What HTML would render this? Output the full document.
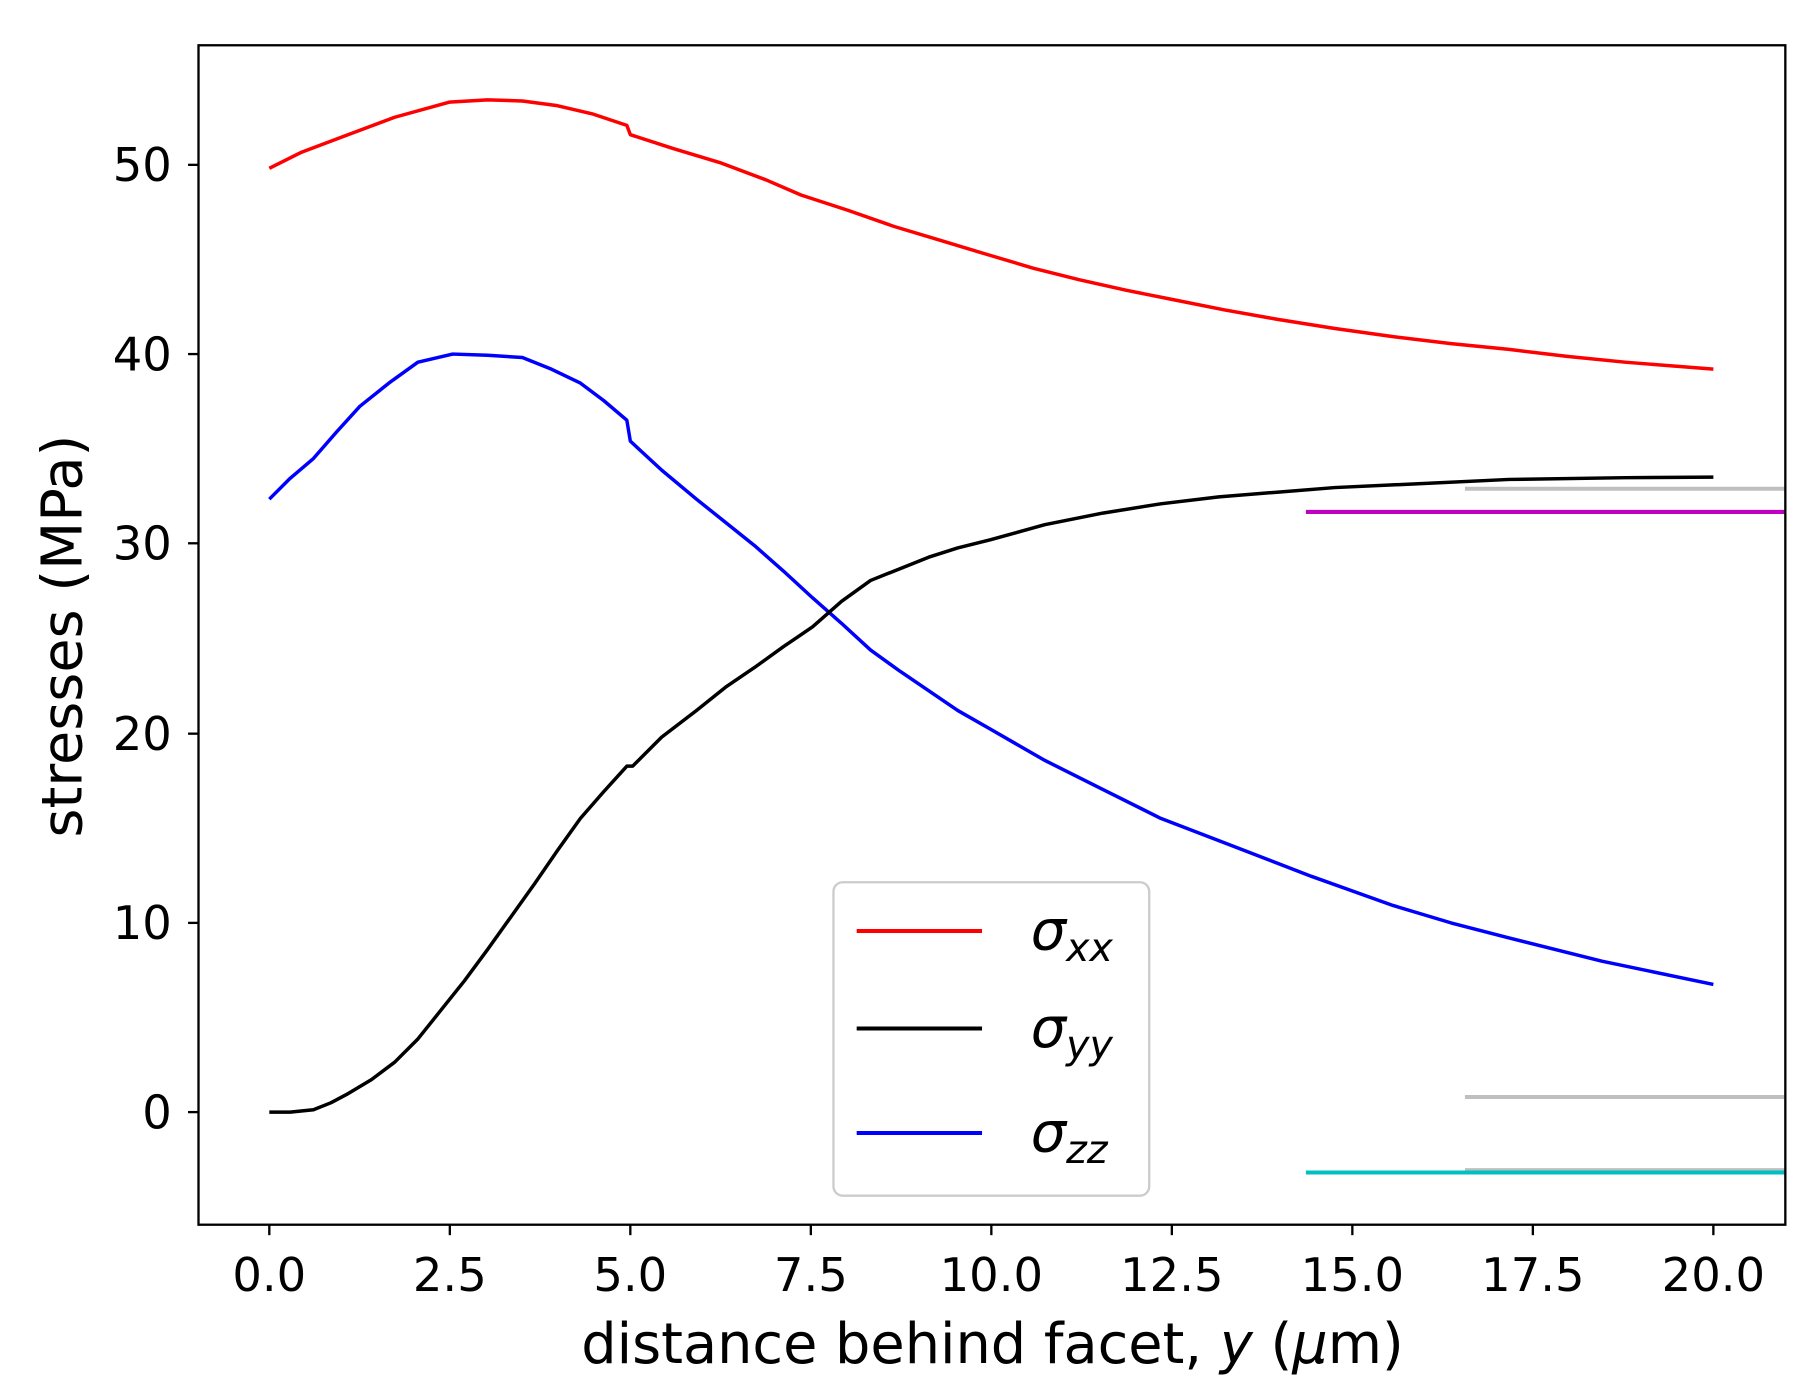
<!DOCTYPE html>
<html><head><meta charset="utf-8"><style>
html,body{margin:0;padding:0;background:#fff;}
svg{display:block;}
text{font-family:"DejaVu Sans","Liberation Sans",sans-serif;fill:#000;}
</style></head><body>
<svg width="1819" height="1400" viewBox="0 0 1567 1206" preserveAspectRatio="none" xmlns="http://www.w3.org/2000/svg">
<rect width="1567" height="1206" fill="#fff"/>
<g stroke-width="3.5" fill="none">
<line x1="1262" y1="421" x2="1538" y2="421" stroke="#bfbfbf"/>
<line x1="1125" y1="441" x2="1538" y2="441" stroke="#c000c0"/>
<line x1="1262" y1="945" x2="1538" y2="945" stroke="#bfbfbf"/>
<line x1="1262" y1="1008" x2="1538" y2="1008" stroke="#bfbfbf"/>
<line x1="1125" y1="1010" x2="1538" y2="1010" stroke="#00bfbf"/>
</g>
<g fill="none" stroke-width="3" stroke-linejoin="round">
<polyline stroke="#ff0000" points="232,145 260,131 300,116 340,101 387,88 420,86 450,87 480,91 510,98 540,108 543,116 580,128 620,140 660,155 690,168 730,181 770,195 810,207 853,220 890,231 930,241 970,250 1010,258 1055,267 1100,275 1150,283 1200,290 1250,296 1300,301 1350,307 1400,312 1476,318"/>
<polyline stroke="#0000ff" points="232,430 250,412 270,395 290,372 310,350 335,330 360,312 390,305 420,306 450,308 475,318 500,330 520,345 540,362 543,380 570,405 600,430 625,450 650,470 675,492 700,515 725,537 750,560 775,578 800,595 825,612 853,628 900,655 950,680 1000,705 1060,728 1130,755 1200,780 1250,795 1300,808 1380,828 1476,848"/>
<polyline stroke="#000000" points="232,958 250,958 270,956 285,950 300,942 320,930 340,915 360,895 380,870 400,845 420,818 440,790 460,762 480,733 500,705 520,682 540,660 545,660 570,635 600,612 625,592 650,575 675,557 700,540 725,518 750,500 775,490 800,480 825,472 853,465 900,452 950,442 1000,434 1050,428 1100,424 1150,420 1215,417 1300,413 1400,411.5 1476,411"/>
</g>
<rect x="171" y="39" width="1367" height="1016" fill="none" stroke="#000" stroke-width="2"/>
<g stroke="#000" stroke-width="2">
<line x1="232" y1="1055" x2="232" y2="1064"/><line x1="387.5" y1="1055" x2="387.5" y2="1064"/>
<line x1="543" y1="1055" x2="543" y2="1064"/><line x1="698.5" y1="1055" x2="698.5" y2="1064"/>
<line x1="854" y1="1055" x2="854" y2="1064"/><line x1="1009.5" y1="1055" x2="1009.5" y2="1064"/>
<line x1="1165" y1="1055" x2="1165" y2="1064"/><line x1="1320.5" y1="1055" x2="1320.5" y2="1064"/>
<line x1="1476" y1="1055" x2="1476" y2="1064"/>
<line x1="162" y1="142" x2="171" y2="142"/><line x1="162" y1="305" x2="171" y2="305"/>
<line x1="162" y1="468" x2="171" y2="468"/><line x1="162" y1="632" x2="171" y2="632"/>
<line x1="162" y1="795" x2="171" y2="795"/><line x1="162" y1="958" x2="171" y2="958"/>
</g>
<g font-size="40" text-anchor="middle">
<text x="232" y="1112">0.0</text><text x="387.5" y="1112">2.5</text><text x="543" y="1112">5.0</text>
<text x="698.5" y="1112">7.5</text><text x="854" y="1112">10.0</text><text x="1009.5" y="1112">12.5</text>
<text x="1165" y="1112">15.0</text><text x="1320.5" y="1112">17.5</text><text x="1476" y="1112">20.0</text>
</g>
<g font-size="40" text-anchor="end">
<text x="148" y="156">50</text><text x="148" y="319">40</text><text x="148" y="482">30</text>
<text x="148" y="646">20</text><text x="148" y="809">10</text><text x="148" y="972">0</text>
</g>
<text x="855" y="1174" font-size="48" text-anchor="middle">distance behind facet, <tspan font-style="italic">y</tspan> (<tspan font-style="italic">μ</tspan>m)</text>
<text transform="translate(70,548) rotate(-90)" font-size="48" text-anchor="middle">stresses (MPa)</text>
<rect x="718" y="760" width="272" height="270" rx="8" fill="#fff" fill-opacity="0.8" stroke="#ccc" stroke-width="2"/>
<g stroke-width="3.5">
<line x1="738" y1="802" x2="846" y2="802" stroke="#ff0000"/>
<line x1="738" y1="886" x2="846" y2="886" stroke="#000"/>
<line x1="738" y1="976" x2="846" y2="976" stroke="#0000ff"/>
</g>
<g font-size="48" font-style="italic">
<text x="888" y="818">σ<tspan font-size="34" dy="10">xx</tspan></text>
<text x="888" y="902">σ<tspan font-size="34" dy="10">yy</tspan></text>
<text x="888" y="992">σ<tspan font-size="34" dy="10">zz</tspan></text>
</g>
</svg>
</body></html>
